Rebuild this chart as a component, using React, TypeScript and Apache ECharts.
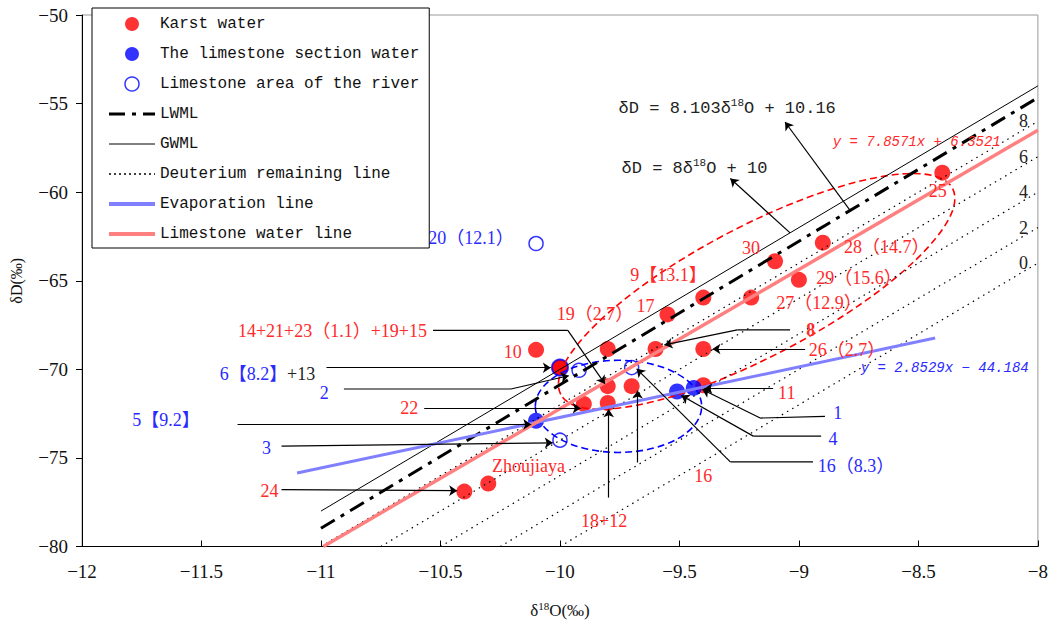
import React, { useEffect, useRef } from "react";
import * as echarts from "echarts";

// ---------- data ----------
const karstWater: number[][] = [
  [-10.1, -68.9], [-9.8, -68.85], [-9.6, -68.85], [-9.4, -68.85],
  [-9.55, -66.9], [-9.4, -65.95], [-9.2, -65.95], [-9.1, -63.9],
  [-9.0, -64.95], [-8.9, -62.85], [-8.4, -58.9], [-9.8, -70.95],
  [-9.7, -70.95], [-9.4, -70.9], [-9.9, -71.95], [-9.8, -71.9],
  [-10.3, -76.45], [-10.4, -76.9], [-10.0, -69.9],
];
const limestoneSectionWater: number[][] = [
  [-10.0, -69.9], [-10.1, -72.9], [-9.51, -71.25], [-9.44, -71.05],
];
const limestoneRiver: number[][] = [
  [-10.1, -62.9], [-9.92, -70.05], [-10.0, -74.0], [-9.7, -69.9],
];

// line fits [slope, intercept] and x extents
const LWML_FIT = [8.103, 10.16];
const LWML_X = [-11, -8];
const GWML_FIT = [8, 10];
const GWML_X = [-11, -8];
const EVAP_FIT = [2.8529, -44.184];
const EVAP_X = [-11.1, -8.43];
const LIMESTONE_FIT = [7.8571, 6.3521];
const LIMESTONE_X = [-10.99, -8];
const deuteriumExcess = [8, 6, 4, 2, 0];
const DEUTERIUM_SLOPE = 8;

const xTicks = { min: -12, max: -8, step: 0.5 };
const yTicks = { min: -80, max: -50, step: 5 };

// annotation texts [text, x, y]
const redLabels: [string, number, number][] = [
  ["10", -10.198, -69.02],
  ["9【13.1】", -9.546, -64.65],
  ["19（2.7）", -9.853, -66.89],
  ["17", -9.642, -66.44],
  ["14+21+23（1.1）+19+15", -10.952, -67.84],
  ["30", -9.2, -63.14],
  ["28（14.7）", -8.632, -63.09],
  ["29（15.6）", -8.749, -64.82],
  ["27（12.9）", -8.916, -66.27],
  ["8", -8.95, -67.77],
  ["26（2.7）", -8.799, -68.9],
  ["11", -9.051, -71.35],
  ["22", -10.631, -72.19],
  ["Zhoujiaya", -10.132, -75.45],
  ["24", -11.215, -76.85],
  ["18+12", -9.815, -78.58],
  ["16", -9.4, -76.01],
  ["25", -8.419, -59.96],
];
const blueLabels: [string, number, number][] = [
  ["20（12.1）", -10.372, -62.58],
  ["2", -10.986, -71.34],
  ["5【9.2】", -11.649, -72.87],
  ["3", -11.228, -74.42],
  ["1", -8.838, -72.47],
  ["4", -8.857, -73.94],
  ["16（8.3）", -8.761, -75.45],
];
const mixedLabels: [string, string, number, number][] = [
  ["6【8.2】", "+13", -11.224, -70.25],
];
const fitLabels: [string, number, number][] = [
  ["y = 7.8571x + 6.3521", -8.507, -57.16],
  ["y = 2.8529x − 44.184", -8.39, -69.91],
];
const equationLabels: [string, string, string, number, number][] = [
  ["δD = 8.103δ", "18", "O + 10.16", -9.3, -55.26],
  ["δD = 8δ", "18", "O + 10", -9.437, -58.67],
];
const excessLabelX = -8.06;

// annotation arrows (polyline points, last segment carries the arrow head)
const arrows: number[][][] = [
  [[-8.786, -61.03], [-9.058, -56.04]],
  [[-9.037, -62.3], [-9.287, -59.23]],
  [[-10.531, -67.8], [-9.967, -67.8], [-9.812, -70.82]],
  [[-10.977, -69.91], [-10.038, -69.91]],
  [[-10.904, -71.11], [-10.205, -71.11], [-9.963, -70.36]],
  [[-10.568, -72.19], [-9.913, -72.19]],
  [[-11.349, -73.11], [-10.12, -73.11]],
  [[-11.165, -74.33], [-10.03, -74.15]],
  [[-11.165, -76.79], [-10.43, -76.85]],
  [[-9.796, -77.24], [-9.796, -72.26]],
  [[-9.675, -75.26], [-9.675, -71.2]],
  [[-9.108, -71.09], [-9.396, -71.09]],
  [[-8.891, -72.65], [-9.162, -72.75], [-9.404, -71.14]],
  [[-8.907, -73.77], [-9.191, -73.77], [-9.492, -71.48]],
  [[-8.941, -75.22], [-9.287, -75.22], [-9.679, -69.97]],
  [[-9.037, -67.77], [-9.258, -67.77], [-9.563, -68.62]],
  [[-8.974, -68.85], [-9.362, -68.85]],
];

// dashed grouping ellipses: centre, end of major axis, minor/major ratio
const ellipseCenters: number[][] = [[-9.177, -65.6], [-9.755, -72.09]];
const ellipseTips: number[][] = [[-8.357, -59.79], [-9.407, -72.09]];
const ellipseRatios = [0.293, 0.554];

// ---------- styling ----------
const SERIF = "'Liberation Serif', 'Noto Sans CJK SC', serif";
const MONO = "'Liberation Mono', 'Noto Sans CJK SC', monospace";
const RED = "#ff0000";
const BLUE = "#0000ff";
const RED_TEXT = "#ff2a2a";
const BLUE_TEXT = "#2a2aff";
const EVAP_COLOR = "#8080ff";
const LIME_COLOR = "#ff8080";
const ellipseColors = [RED, BLUE];

const lineData = (fit: number[], xr: number[]) =>
  xr.map((x) => [x, +(fit[0] * x + fit[1]).toFixed(4)]);

type Lbl = { x: number; y: number; style: any };

function buildLabels(): Lbl[] {
  const out: Lbl[] = [];
  const base = { fontFamily: SERIF, fontSize: 18, align: "center", verticalAlign: "middle" };
  redLabels.forEach(([t, x, y]) =>
    out.push({ x, y, style: { ...base, text: t, fill: RED_TEXT, fontWeight: t === "8" ? "bold" : "normal" } })
  );
  blueLabels.forEach(([t, x, y]) => out.push({ x, y, style: { ...base, text: t, fill: BLUE_TEXT } }));
  mixedLabels.forEach(([a, b, x, y]) =>
    out.push({
      x, y,
      style: {
        ...base,
        text: `{b|${a}}{k|${b}}`,
        rich: {
          b: { fill: BLUE_TEXT, fontFamily: SERIF, fontSize: 18 },
          k: { fill: "#222", fontFamily: SERIF, fontSize: 18 },
        },
      },
    })
  );
  fitLabels.forEach(([t, x, y], i) =>
    out.push({
      x, y,
      style: { ...base, text: t, fontFamily: MONO, fontSize: 14, fontStyle: "italic", fill: i === 0 ? RED_TEXT : BLUE_TEXT },
    })
  );
  equationLabels.forEach(([a, s, b, x, y]) =>
    out.push({
      x, y,
      style: {
        ...base,
        text: `{n|${a}}{s|${s}}{n|${b}}`,
        rich: {
          n: { fill: "#222", fontFamily: MONO, fontSize: 17, lineHeight: 22, verticalAlign: "middle" },
          s: { fill: "#222", fontFamily: MONO, fontSize: 11, lineHeight: 12, verticalAlign: "top" },
        },
      },
    })
  );
  deuteriumExcess.forEach((d) =>
    out.push({
      x: excessLabelX,
      y: DEUTERIUM_SLOPE * xTicks.max + d,
      style: { ...base, text: String(d), fill: "#222" },
    })
  );
  return out;
}

const hiddenSymbol = { color: "rgba(0,0,0,0)", borderWidth: 0, opacity: 0 };

function buildOption(): any {
  const labels = buildLabels();
  const connectors = arrows.filter((a) => a.length > 2).map((a) => ({ coords: a.slice(0, a.length - 1) }));
  const heads = arrows.map((a) => ({ coords: a.slice(a.length - 2) }));
  const lineBase = { type: "line", showSymbol: false, symbol: "none", silent: true, z: 3 };
  const dash = [16, 7, 4, 7];
  const dots = [1.5, 4.5];

  const deuteriumSeries = deuteriumExcess.map((d) => ({
    ...lineBase,
    name: "Deuterium remaining line",
    data: lineData([DEUTERIUM_SLOPE, d], [(yTicks.min - d) / DEUTERIUM_SLOPE, xTicks.max]),
    itemStyle: { color: "#000" },
    lineStyle: { color: "#000", width: 1.2, type: dots },
  }));

  return {
    animation: false,
    backgroundColor: "#fff",
    grid: { left: 80, right: 13, top: 15, bottom: 72, show: true, borderColor: "#9a9a9a", borderWidth: 1 },
    legend: {
      orient: "vertical",
      left: 92,
      top: 8,
      z: 10,
      itemWidth: 46,
      itemHeight: 14,
      itemGap: 14,
      padding: [8, 10, 6, 15],
      backgroundColor: "#fff",
      borderColor: "#000",
      borderWidth: 1,
      borderRadius: 0,
      selectedMode: false,
      textStyle: { fontFamily: MONO, fontSize: 16, color: "#111", lineHeight: 16 },
      data: [
        { name: "Karst water", icon: "circle" },
        { name: "The limestone section water", icon: "circle" },
        { name: "Limestone area of the river", icon: "circle", itemStyle: { color: "#fff", borderColor: BLUE, borderWidth: 1.5 } },
        { name: "LWML", itemStyle: hiddenSymbol, lineStyle: { color: "#000", width: 3, type: dash } },
        { name: "GWML", itemStyle: hiddenSymbol, lineStyle: { color: "#000", width: 1 } },
        { name: "Deuterium remaining line", itemStyle: hiddenSymbol, lineStyle: { color: "#000", width: 1.5, type: [2, 3] } },
        { name: "Evaporation line", itemStyle: hiddenSymbol, lineStyle: { color: EVAP_COLOR, width: 4 } },
        { name: "Limestone water line", itemStyle: hiddenSymbol, lineStyle: { color: LIME_COLOR, width: 4 } },
      ],
    },
    xAxis: {
      type: "value",
      min: xTicks.min,
      max: xTicks.max,
      interval: xTicks.step,
      axisLine: { show: true, onZero: false, lineStyle: { color: "#000", width: 1 } },
      axisTick: { show: true, inside: true, length: 6, lineStyle: { color: "#000" } },
      axisLabel: {
        fontFamily: SERIF, fontSize: 19, color: "#111", margin: 15,
        formatter: (v: number) => String(v).replace("-", "−"),
      },
      splitLine: { show: false },
      name: "{n|δ}{s|18}{n|O(‰)}",
      nameLocation: "middle",
      nameGap: 54,
      nameTextStyle: {
        rich: {
          n: { fontFamily: SERIF, fontSize: 17, color: "#111", lineHeight: 20, verticalAlign: "middle" },
          s: { fontFamily: SERIF, fontSize: 11, color: "#111", lineHeight: 11, verticalAlign: "top" },
        },
      },
    },
    yAxis: {
      type: "value",
      min: yTicks.min,
      max: yTicks.max,
      interval: yTicks.step,
      axisLine: { show: true, onZero: false, lineStyle: { color: "#000", width: 1 } },
      axisTick: { show: true, inside: false, length: 6, lineStyle: { color: "#000" } },
      axisLabel: {
        fontFamily: SERIF, fontSize: 19, color: "#111", margin: 14,
        formatter: (v: number) => String(v).replace("-", "−"),
      },
      splitLine: { show: false },
      name: "δD(‰)",
      nameLocation: "middle",
      nameGap: 58,
      nameRotate: 90,
      nameTextStyle: { fontFamily: SERIF, fontSize: 16, color: "#111" },
    },
    series: [
      {
        type: "scatter",
        name: "Limestone area of the river",
        data: limestoneRiver,
        symbol: "circle",
        symbolSize: 14,
        itemStyle: { color: "rgba(255,255,255,0)", borderColor: BLUE, borderWidth: 1.5 },
        z: 2,
        silent: true,
      },
      {
        type: "scatter",
        name: "Karst water",
        data: karstWater,
        symbol: "circle",
        symbolSize: 16,
        itemStyle: { color: RED },
        z: 2,
        silent: true,
      },
      {
        type: "scatter",
        name: "The limestone section water",
        data: limestoneSectionWater.map((p, i) =>
          i === 0 ? { value: p, itemStyle: { color: RED, borderColor: BLUE, borderWidth: 2 } } : p
        ),
        symbol: "circle",
        symbolSize: 16,
        itemStyle: { color: BLUE },
        z: 2,
        silent: true,
      },
      {
        type: "custom",
        coordinateSystem: "cartesian2d",
        data: ellipseCenters,
        encode: { x: 0, y: 1 },
        z: 3,
        silent: true,
        renderItem: (params: any, api: any) => {
          const i = params.dataIndex;
          const c = api.coord(ellipseCenters[i]);
          const t = api.coord(ellipseTips[i]);
          const dx = t[0] - c[0];
          const dy = t[1] - c[1];
          const a = Math.hypot(dx, dy);
          return {
            type: "ellipse",
            x: c[0],
            y: c[1],
            rotation: -Math.atan2(dy, dx),
            shape: { cx: 0, cy: 0, rx: a, ry: a * ellipseRatios[i] },
            style: { fill: "none", stroke: ellipseColors[i], lineWidth: 1.6, lineDash: [7, 4] },
          };
        },
      },
      ...deuteriumSeries,
      {
        ...lineBase,
        name: "GWML",
        data: lineData(GWML_FIT, GWML_X),
        itemStyle: { color: "#000" },
        lineStyle: { color: "#000", width: 1 },
      },
      {
        ...lineBase,
        name: "LWML",
        data: lineData(LWML_FIT, LWML_X),
        itemStyle: { color: "#000" },
        lineStyle: { color: "#000", width: 3, type: dash },
      },
      {
        ...lineBase,
        name: "Evaporation line",
        data: lineData(EVAP_FIT, EVAP_X),
        itemStyle: { color: EVAP_COLOR },
        lineStyle: { color: EVAP_COLOR, width: 3 },
      },
      {
        ...lineBase,
        name: "Limestone water line",
        data: lineData(LIMESTONE_FIT, LIMESTONE_X),
        itemStyle: { color: LIME_COLOR },
        lineStyle: { color: LIME_COLOR, width: 3.5 },
      },
      {
        type: "lines",
        coordinateSystem: "cartesian2d",
        polyline: true,
        data: connectors,
        symbol: "none",
        lineStyle: { color: "#000", width: 1.2, opacity: 1 },
        z: 4,
        silent: true,
      },
      {
        type: "lines",
        coordinateSystem: "cartesian2d",
        data: heads,
        symbol: ["none", "arrow"],
        symbolSize: 8,
        lineStyle: { color: "#000", width: 1.2, opacity: 1 },
        z: 4,
        silent: true,
      },
      {
        type: "custom",
        coordinateSystem: "cartesian2d",
        data: labels.map((l) => [l.x, l.y]),
        encode: { x: 0, y: 1 },
        z: 5,
        silent: true,
        renderItem: (params: any, api: any) => {
          const l = labels[params.dataIndex];
          const p = api.coord([l.x, l.y]);
          return { type: "text", x: p[0], y: p[1], style: l.style };
        },
      },
    ],
  };
}

export default function App() {
  const ref = useRef<HTMLDivElement>(null);
  useEffect(() => {
    document.body.style.margin = "0";
    const chart = echarts.init(ref.current as HTMLDivElement, null, { renderer: "svg" });
    chart.setOption(buildOption());
    return () => chart.dispose();
  }, []);
  return <div ref={ref} style={{ width: 1051, height: 624 }} />;
}
